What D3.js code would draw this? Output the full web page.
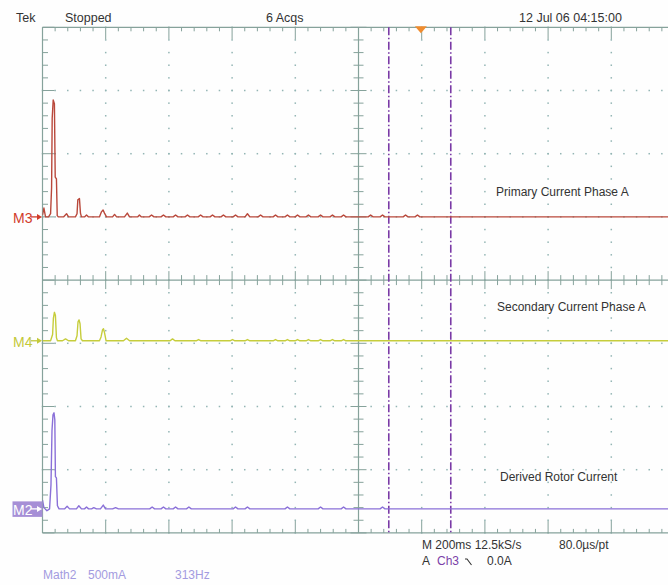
<!DOCTYPE html>
<html>
<head>
<meta charset="utf-8">
<script src="https://cdn.jsdelivr.net/npm/d3@7"></script>
<style>
  html, body { margin: 0; padding: 0; background: #fefefe; }
  svg { display: block; font-family: "Liberation Sans", Arial, sans-serif; }
</style>
</head>
<body>
<svg id="scope" width="668" height="585"></svg>
<script>
// Spectrum traces: [frequency in Hz, amplitude in divisions above the trace reference]
const primaryA = [
  [0,0.03],[7,0.14],[15,0],[30,0],[40,0.05],[45,0.46],[48,1.56],[53,1.85],[59,1.79],[63,0.63],[69,0.60],[73,0.02],[79,0],
  [104,0],[119,0.05],[129,0],
  [163,0],[171,0.05],[175,0.27],[183,0.29],[188,0.06],[193,0],
  [208,0],[218,0.03],[228,0],
  [282,0],[292,0.08],[300,0.11],[307,0.06],[317,0],
  [347,0],[357,0.04],[367,0],
  [406,0],[420,0.06],[431,0],
  [471,0],[480,0.03],[490,0],
  [528,0],[540,0.03],[552,0],
  [587,0],[599,0.03],[611,0],
  [647,0],[659,0.03],[671,0],
  [706,0],[718,0.03],[730,0],
  [771,0],[783,0.03],[795,0],
  [830,0],[842,0.03],[854,0],
  [884,0],[896,0.03],[908,0],
  [944,0],[956,0.03],[968,0],
  [1003,0],[1015,0.05],[1027,0],
  [1068,0],[1080,0.03],[1092,0],
  [1142,0],[1154,0.03],[1166,0],
  [1201,0],[1213,0.03],[1225,0],
  [1251,0],[1263,0.03],[1275,0],
  [1305,0],[1317,0.03],[1329,0],
  [1365,0],[1377,0.03],[1389,0],
  [1424,0],[1436,0.03],[1448,0],
  [1479,0],[1491,0.03],[1503,0],
  [1613,0],[1625,0.03],[1637,0],
  [1672,0],[1684,0.03],[1696,0],
  [1786,0],[1798,0.03],[1810,0],
  [1845,0],[1857,0.03],[1869,0],
  [3130,0]
];

const secondaryA = [
  [0,0],[40,0],[50,0.10],[54,0.36],[59,0.45],[64,0.40],[69,0.05],[74,0],
  [99,0],[114,0.03],[129,0],
  [163,0],[171,0.08],[176,0.30],[181,0.33],[186,0.27],[191,0.03],[198,0],
  [282,0],[290,0.06],[297,0.17],[302,0.19],[307,0.13],[315,0],
  [401,0],[416,0.04],[431,0],
  [632,0],[644,0.03],[656,0],
  [761,0],[773,0.02],[785,0],
  [929,0],[941,0.02],[953,0],
  [1003,0],[1015,0.02],[1027,0],
  [1142,0],[1154,0.02],[1166,0],
  [1201,0],[1213,0.02],[1225,0],
  [1251,0],[1263,0.02],[1275,0],
  [1305,0],[1317,0.02],[1329,0],
  [1365,0],[1377,0.02],[1389,0],
  [1424,0],[1436,0.02],[1448,0],
  [1479,0],[1491,0.02],[1503,0],
  [3130,0]
];

const rotorCurrent = [
  [0,0.14],[7,0.02],[22,-0.03],[35,0],[42,0.38],[47,1.24],[52,1.49],[57,1.52],[61,1.41],[64,0.51],[69,0.49],[74,0.05],[82,0],
  [109,0],[122,0.04],[134,0],
  [168,0],[180,0.05],[193,0],
  [208,0],[218,0.03],[228,0],
  [243,0],[254,0.02],[267,0],
  [287,0],[301,0.06],[312,0],
  [347,0],[362,0.02],[376,0],
  [531,0],[543,0.03],[555,0],
  [587,0],[599,0.03],[611,0],
  [647,0],[659,0.03],[671,0],
  [713,0],[725,0.03],[737,0],
  [944,0],[956,0.03],[968,0],
  [1003,0],[1015,0.03],[1027,0],
  [1201,0],[1213,0.03],[1225,0],
  [1365,0],[1377,0.03],[1389,0],
  [1479,0],[1491,0.03],[1503,0],
  [1672,0],[1684,0.03],[1696,0],
  [3130,0]
];

const traceNames = ["Primary Current Phase A", "Secondary Current Phase A", "Derived Rotor Current"];
const channelTags = ["M3", "M4", "M2"];
const headerTexts = ["Tek", "Stopped", "6 Acqs", "12 Jul 06 04:15:00"];
const cursorHz = [1715, 2022];     // vertical cursor positions
const triggerHz = 1874;            // trigger position marker
const hzPerDiv = 313;

// ---- layout ----
const svg = d3.select("#scope");
const gLeft = 42.5, gTop = 27.3, div = 63.2;
const gx = d3.scaleLinear().domain([0, 10]).range([gLeft, gLeft + 10 * div]);
const gy = d3.scaleLinear().domain([-4, 4]).range([gTop + 8 * div, gTop]);
const fx = d3.scaleLinear().domain([0, 10 * hzPerDiv]).range(gx.range());

const gridCol = "#86a29b";
const dotCol = "#93b5b4";

// ---- graticule ----
const grid = svg.append("g");
// dotted division lines
const minor = d3.range(0, 50.5, 1).map(i => i / 5);
const minorY = d3.range(0, 40.5, 1).map(i => -4 + i / 5);
[1,2,3,4,6,7,8,9].forEach(v => {
  grid.selectAll(null).data(minorY).enter().append("rect")
    .attr("x", gx(v) - 0.75).attr("y", d => gy(d) - 0.75)
    .attr("width", 1.5).attr("height", 1.5).attr("fill", dotCol);
});
[-3,-2,-1,1,2,3].forEach(v => {
  grid.selectAll(null).data(minor).enter().append("rect")
    .attr("x", d => gx(d) - 0.75).attr("y", gy(v) - 0.75)
    .attr("width", 1.5).attr("height", 1.5).attr("fill", dotCol);
});
// border and centre axes
const line = (x1, y1, x2, y2, w) => grid.append("line")
  .attr("x1", x1).attr("y1", y1).attr("x2", x2).attr("y2", y2)
  .attr("stroke", gridCol).attr("stroke-width", w || 1.2);
line(gx(0), gy(4), gx(10), gy(4));
line(gx(0), gy(-4), gx(10), gy(-4));
line(gx(0), gy(4), gx(0), gy(-4));
line(gx(0), gy(0), gx(10), gy(0));
line(gx(5), gy(4), gx(5), gy(-4));
// ticks
minor.forEach(d => {
  const major = Math.abs(d - Math.round(d)) < 1e-6;
  const x = gx(d);
  line(x, gy(4), x, gy(4) + (major ? 12 : 4), 1);
  line(x, gy(-4), x, gy(-4) - (major ? 12 : 4), 1);
  line(x, gy(0) - (major ? 9 : 5), x, gy(0) + (major ? 9 : 5), 1);
});
minorY.forEach(d => {
  const major = Math.abs(d - Math.round(d)) < 1e-6;
  const y = gy(d);
  line(gx(0), y, gx(0) + (major ? 12 : 5.5), y, 1);
  line(gx(5) - (major ? 8 : 5), y, gx(5) + (major ? 8 : 5), y, 1);
});

// ---- cursors and trigger marker ----
svg.selectAll(".cursor").data(cursorHz).enter().append("line")
  .attr("class", "cursor")
  .attr("x1", d => fx(d)).attr("x2", d => fx(d))
  .attr("y1", gy(4)).attr("y2", gy(-4))
  .attr("stroke", "#7a3aa6").attr("stroke-width", 1.6)
  .attr("stroke-dasharray", "8,2.5,1.5,2.5");
const tx = fx(triggerHz);
svg.append("path")
  .attr("d", `M${tx - 6},${gTop - 1} L${tx + 6},${gTop - 1} L${tx},${gTop + 6} Z`)
  .attr("fill", "#f08c2e");

// ---- traces ----
const traces = [
  { data: primaryA, ref: 1.0, color: "#b9483b", tagColor: "#d13b2a" },
  { data: secondaryA, ref: -0.96, color: "#c6cd3c", tagColor: "#c4c93a" },
  { data: rotorCurrent, ref: -3.62, color: "#8a70d8", tagColor: "#a68fd6" }
];
svg.append("clipPath").attr("id", "screen").append("rect")
  .attr("x", gx(0)).attr("y", gy(4)).attr("width", 10 * div).attr("height", 8 * div);

traces.forEach((t, i) => {
  const path = d3.line().x(d => fx(d[0])).y(d => gy(t.ref + d[1]));
  svg.append("path").datum(t.data)
    .attr("clip-path", "url(#screen)")
    .attr("d", path).attr("fill", "none")
    .attr("stroke", t.color).attr("stroke-width", 1.4)
    .attr("stroke-linejoin", "round");

  const y = gy(t.ref);
  const g = svg.append("g");
  if (i === 2) {
    g.append("rect").attr("x", 12.5).attr("y", y - 7.5).attr("width", 30).attr("height", 15.5)
      .attr("fill", t.tagColor);
  }
  const fg = i === 2 ? "#ffffff" : t.tagColor;
  g.append("text").attr("x", 13).attr("y", y + 6.5)
    .attr("font-size", 14).attr("fill", fg).text(channelTags[i]);
  g.append("line").attr("x1", 31).attr("y1", y).attr("x2", 38).attr("y2", y)
    .attr("stroke", fg).attr("stroke-width", 1.3);
  g.append("path").attr("d", `M${37},${y - 3} L${42},${y} L${37},${y + 3} Z`).attr("fill", fg);
});

// ---- trace annotations ----
const labelPos = [[496, 196], [497, 311], [500, 481]];
svg.selectAll(".tname").data(traceNames).enter().append("text")
  .attr("class", "tname")
  .attr("x", (d, i) => labelPos[i][0]).attr("y", (d, i) => labelPos[i][1])
  .attr("font-size", 12).attr("fill", "#333").text(d => d);

// ---- status text ----
const headerX = [16, 65, 266, 519];
svg.selectAll(".hdr").data(headerTexts).enter().append("text")
  .attr("class", "hdr")
  .attr("x", (d, i) => headerX[i]).attr("y", 22)
  .attr("font-size", 12.5).attr("fill", "#333").text(d => d);

const foot = svg.append("g").attr("font-size", 12).attr("fill", "#333");
foot.append("text").attr("x", 422).attr("y", 549).text("M 200ms 12.5kS/s");
foot.append("text").attr("x", 559).attr("y", 549).text("80.0\u00b5s/pt");
foot.append("text").attr("x", 422).attr("y", 565).text("A");
foot.append("text").attr("x", 437).attr("y", 565).attr("fill", "#7b3fa8").text("Ch3");
foot.append("path").attr("d", "M465,559 L467,559 L471.5,565").attr("fill", "none")
  .attr("stroke", "#333").attr("stroke-width", 1.1);
foot.append("text").attr("x", 487).attr("y", 565).text("0.0A");

const math = svg.append("g").attr("font-size", 12).attr("fill", "#a39be0");
math.append("text").attr("x", 43).attr("y", 579).text("Math2");
math.append("text").attr("x", 88).attr("y", 579).text("500mA");
math.append("text").attr("x", 175).attr("y", 579).text("313Hz");
</script>
</body>
</html>
